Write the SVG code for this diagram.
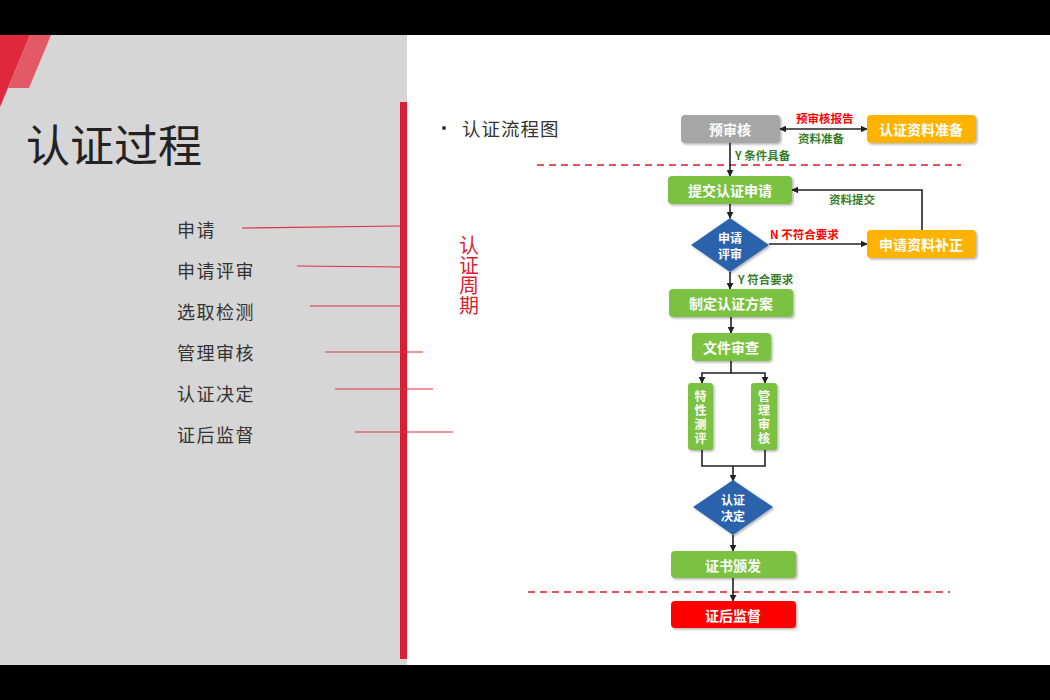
<svg xmlns="http://www.w3.org/2000/svg" width="1050" height="700" viewBox="0 0 1050 700">
<defs>
<style>
.cjk{font-family:"Noto Sans CJK SC","Noto Sans",sans-serif;}
.box{stroke:none;filter:url(#sh);}
.g{fill:#7CC242;}
.o{fill:#FFB300;}
.btxt{font-family:"Noto Sans CJK SC",sans-serif;font-weight:bold;fill:#fff;font-size:14px;text-anchor:middle;dominant-baseline:central;}
.dtxt{font-family:"Noto Sans CJK SC",sans-serif;font-weight:bold;fill:#fff;font-size:12px;text-anchor:middle;dominant-baseline:central;}
.vtxt{font-family:"Noto Sans CJK SC",sans-serif;font-weight:bold;fill:#fff;font-size:12px;writing-mode:vertical-rl;text-orientation:upright;letter-spacing:2px;}
.lbl{font-family:"Noto Sans CJK SC",sans-serif;font-weight:bold;font-size:11.5px;dominant-baseline:central;}
.lg{fill:#3A7D2A;}
.lr{fill:#FF0000;}
.conn{stroke:#222;stroke-width:1.6;fill:none;}
.dash{stroke:#E8505B;stroke-width:2;stroke-dasharray:7,5;fill:none;}
.item{font-family:"Noto Sans CJK SC",sans-serif;font-size:18px;fill:#333;letter-spacing:1.5px;dominant-baseline:central;}
.tick{stroke:#D9323F;stroke-width:1.2;}
</style>
<marker id="ah" viewBox="0 0 10 10" refX="9" refY="5" markerWidth="7" markerHeight="7" markerUnits="userSpaceOnUse" orient="auto-start-reverse">
<path d="M0,0 L10,5 L0,10 z" fill="#222"/>
</marker>
<filter id="sh" x="-10%" y="-20%" width="125%" height="150%">
<feDropShadow dx="1.5" dy="1.5" stdDeviation="1.2" flood-color="#000" flood-opacity="0.3"/>
</filter>
</defs>

<!-- background -->
<rect x="0" y="0" width="1050" height="700" fill="#000"/>
<rect x="0" y="35" width="407" height="630" fill="#D6D6D6"/>
<rect x="407" y="35" width="643" height="630" fill="#FFFFFF"/>
<polygon points="0,35 30,35 0,107" fill="#E0283C"/>
<polygon points="30,35 51,35 29,88 8,88" fill="#E35A66"/>
<rect x="400" y="102" width="7" height="557" fill="#D91F33"/>

<!-- left side text -->
<g id="title">
<text x="26" y="162" class="cjk" font-size="44" fill="#222">认证过程</text>
</g>
<g id="list">
<text x="177" y="229" class="item">申请</text>
<text x="177" y="270" class="item">申请评审</text>
<text x="177" y="311" class="item">选取检测</text>
<text x="177" y="352" class="item">管理审核</text>
<text x="177" y="393" class="item">认证决定</text>
<text x="177" y="434" class="item">证后监督</text>
<line class="tick" x1="242" y1="228" x2="400" y2="226"/>
<line class="tick" x1="297" y1="266" x2="400" y2="267"/>
<line class="tick" x1="310" y1="306" x2="402" y2="306"/>
<line class="tick" x1="325" y1="352" x2="423" y2="352"/>
<line class="tick" x1="335" y1="389" x2="433" y2="389"/>
<line class="tick" x1="355" y1="432" x2="453" y2="432"/>
</g>
<g id="cycle">
<text x="469" y="235" class="cjk" font-size="20" fill="#D91F33" style="writing-mode:vertical-rl;text-orientation:upright;">认证周期</text>
</g>
<g id="heading">
<circle cx="444" cy="128" r="2" fill="#333"/>
<text x="462" y="128" class="cjk" font-size="18.5" fill="#333" dominant-baseline="central" letter-spacing="1">认证流程图</text>
</g>

<!-- dashed lines -->
<line class="dash" x1="537" y1="165" x2="961" y2="165"/>
<line class="dash" x1="528" y1="592" x2="950" y2="592"/>

<!-- connectors -->
<g id="connectors">
<line class="conn" x1="780" y1="129" x2="867" y2="129" marker-start="url(#ah)" marker-end="url(#ah)"/>
<line class="conn" x1="730" y1="143" x2="730" y2="176" marker-end="url(#ah)"/>
<polyline class="conn" points="922,230 922,190 792,190" marker-end="url(#ah)"/>
<line class="conn" x1="730" y1="204" x2="730" y2="218" marker-end="url(#ah)"/>
<line class="conn" x1="769" y1="244" x2="867" y2="244" marker-end="url(#ah)"/>
<line class="conn" x1="730" y1="272" x2="730" y2="289" marker-end="url(#ah)"/>
<line class="conn" x1="731" y1="317" x2="731" y2="333" marker-end="url(#ah)"/>
<polyline class="conn" points="731,361 731,373 702,373 702,383" marker-end="url(#ah)"/>
<polyline class="conn" points="731,373 765,373 765,383" marker-end="url(#ah)"/>
<polyline class="conn" points="702,450 702,466 765,466 765,450"/>
<line class="conn" x1="733" y1="466" x2="733" y2="481" marker-end="url(#ah)"/>
<line class="conn" x1="733" y1="535" x2="733" y2="551" marker-end="url(#ah)"/>
<line class="conn" x1="733" y1="578" x2="733" y2="601" marker-end="url(#ah)"/>
<text x="796" y="118" class="lbl lr">预审核报告</text>
<text x="798" y="138" class="lbl lg">资料准备</text>
<text x="735" y="155" class="lbl lg">Y 条件具备</text>
<text x="829" y="199" class="lbl lg">资料提交</text>
<text x="770" y="234" class="lbl lr">N 不符合要求</text>
<text x="738" y="279" class="lbl lg">Y 符合要求</text>
</g>

<!-- nodes -->
<g id="n-preaudit">
<rect class="box" x="681" y="115" width="99" height="28" rx="4" fill="#A6A6A6"/>
<text class="btxt" x="730" y="129">预审核</text>
</g>
<g id="n-prepare">
<rect class="box o" x="867" y="115" width="109" height="28" rx="4"/>
<text class="btxt" x="921" y="129">认证资料准备</text>
</g>
<g id="n-submit">
<rect class="box g" x="668" y="176" width="124" height="28" rx="4"/>
<text class="btxt" x="730" y="190">提交认证申请</text>
</g>
<g id="n-review">
<polygon points="730,218 769,245 730,272 691,245" fill="#2C64AC" filter="url(#sh)"/>
<text class="dtxt"><tspan x="730" y="237">申请</tspan><tspan x="730" y="253">评审</tspan></text>
</g>
<g id="n-supplement">
<rect class="box o" x="867" y="230" width="109" height="28" rx="4"/>
<text class="btxt" x="921" y="244">申请资料补正</text>
</g>
<g id="n-plan">
<rect class="box g" x="669" y="289" width="124" height="28" rx="4"/>
<text class="btxt" x="731" y="303">制定认证方案</text>
</g>
<g id="n-doc">
<rect class="box g" x="692" y="333" width="79" height="28" rx="4"/>
<text class="btxt" x="731" y="347" font-size="13">文件审查</text>
</g>
<g id="n-test">
<rect class="box g" x="688" y="383" width="25" height="67" rx="3"/>
<text class="vtxt" x="700.5" y="390">特性测评</text>
</g>
<g id="n-mgmt">
<rect class="box g" x="751" y="383" width="26" height="67" rx="3"/>
<text class="vtxt" x="764" y="390">管理审核</text>
</g>
<g id="n-decision">
<polygon points="733,480 773,507 733,535 693,507" fill="#2C64AC" filter="url(#sh)"/>
<text class="dtxt"><tspan x="733" y="499">认证</tspan><tspan x="733" y="515">决定</tspan></text>
</g>
<g id="n-issue">
<rect class="box g" x="671" y="551" width="125" height="27" rx="4"/>
<text class="btxt" x="733" y="564.5">证书颁发</text>
</g>
<g id="n-surveil">
<rect class="box" x="671" y="601" width="125" height="27" rx="4" fill="#FF0000"/>
<text class="btxt" x="733" y="614.5">证后监督</text>
</g>
</svg>
